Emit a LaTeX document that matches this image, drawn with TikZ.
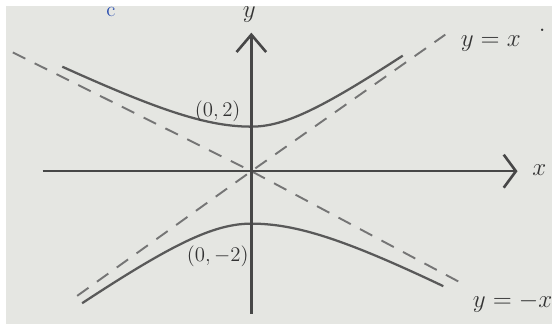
\documentclass[tikz,border=0pt]{standalone}
\usepackage{tikz}
\usetikzlibrary{arrows.meta}
\definecolor{paper}{HTML}{E5E6E2}
\definecolor{pencil}{HTML}{474747}
\definecolor{ink}{HTML}{2B4FB0}
\begin{document}
\begin{tikzpicture}[x=0.2cm,y=0.2cm,
  axis/.style={draw=pencil,line width=1.5pt},
  asym/.style={draw=pencil!75,line width=1.1pt,dash pattern=on 8pt off 6pt},
  branch/.style={draw=pencil!90,line width=1.3pt},
  lbl/.style={text=black!80,font=\Large}]
  \fill[white] (-25.4,17.3) rectangle (30.4,-15.4);
  \fill[paper] (-24.8,16.7) rectangle (30.4,-15.4);
  \node[text=ink,font=\large,anchor=base] (c) at (-14.2,15.6) {c};
  \coordinate (O) at (0,0);
  \coordinate (xl) at (-21.1,0);
  \coordinate (xr) at (26.9,0);
  \coordinate (yb) at (0,-14.4);
  \coordinate (yt) at (0,14.0);
  \coordinate (pl) at (-17.6,-12.6);
  \coordinate (pr) at (19.6,13.8);
  \coordinate (ml) at (-24.1,12.0);
  \coordinate (mr) at (21.4,-11.4);
  \path[asym] (pl) -- (O) -- (pr)  (ml) -- (O) -- (mr);
  \draw[branch] plot[domain=-19.1:0,samples=40] (\x,{sqrt(20.25+0.25*\x*\x)})
     -- plot[domain=0:15.3,samples=40] (\x,{sqrt(20.25+0.4956*\x*\x)});
  \draw[branch] plot[domain=-17.1:0,samples=40] (\x,{-sqrt(28.09+0.5127*\x*\x)})
     -- plot[domain=0:19.4,samples=40] (\x,{-sqrt(28.09+0.2841*\x*\x)});
  \draw[axis,-{Straight Barb[length=7pt,width=19pt]}] (xl) -- (xr);
  \draw[axis,-{Straight Barb[length=10pt,width=17pt]}] (yb) -- (yt);
  \node[lbl] (ylab) at (-0.2,15.8) {$y$};
  \node[lbl] (xlab) at (29.1,0.1) {$x$};
  \node[lbl,font=\large] (top) at (-3.4,6.1) {$(0,2)$};
  \node[lbl,font=\large] (bot) at (-3.4,-8.6) {$(0,-2)$};
  \node[lbl] (yx) at (24.2,12.9) {$y=x$};
  \node[lbl] (dot) at (29.4,14.2) {.};
  \node[lbl] (ymx) at (26.4,-13.3) {$y=-x$};
\end{tikzpicture}
\end{document}
